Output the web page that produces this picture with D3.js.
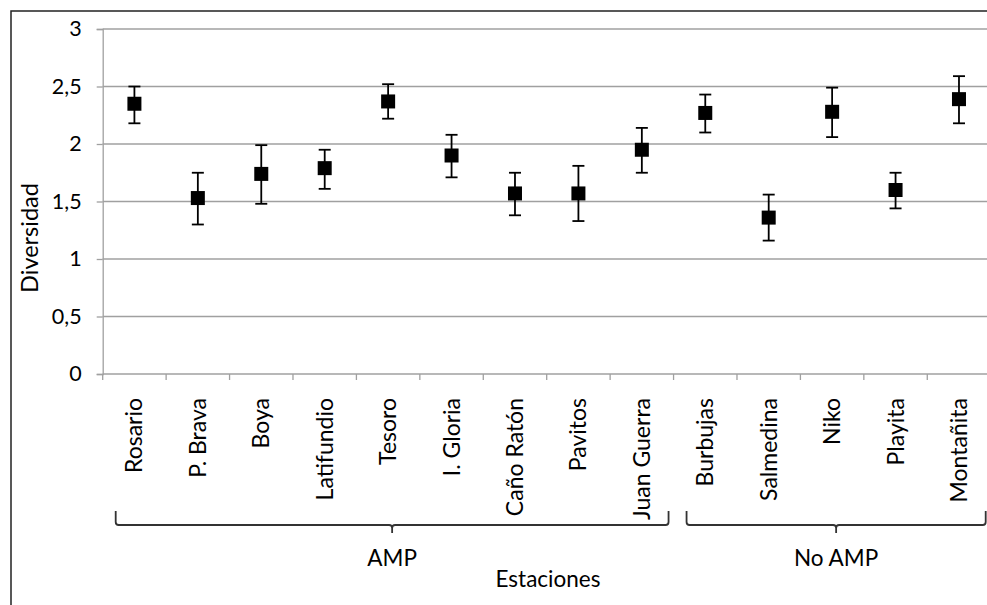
<!DOCTYPE html>
<html>
<head>
<meta charset="utf-8">
<script src="https://cdn.jsdelivr.net/npm/d3@7"></script>
<style>
  body { margin: 0; background: #fff; }
  text { font-family: Lato, "Open Sans", sans-serif; fill: #000; }
</style>
</head>
<body>
<svg id="chart" width="987" height="605"></svg>
<script>
// stations and diversity values
var stations = ["Rosario", "P. Brava", "Boya", "Latifundio", "Tesoro", "I. Gloria",
  "Caño Ratón", "Pavitos", "Juan Guerra", "Burbujas", "Salmedina", "Niko", "Playita", "Montañita"];
var diversity = [2.35, 1.53, 1.74, 1.79, 2.37, 1.90, 1.57, 1.57, 1.95, 2.27, 1.36, 2.28, 1.60, 2.39];
var errTop = [2.50, 1.75, 1.99, 1.95, 2.52, 2.08, 1.75, 1.81, 2.14, 2.43, 1.56, 2.49, 1.75, 2.59];
var errBottom = [2.18, 1.30, 1.48, 1.61, 2.22, 1.71, 1.38, 1.33, 1.75, 2.10, 1.16, 2.06, 1.44, 2.18];
var yTicks = [0, 0.5, 1, 1.5, 2, 2.5, 3];

var groupNames = ["AMP", "No AMP"];
var groupFirst = [0, 9];
var groupLast = [8, 13];

var svg = d3.select("#chart");

// outer chart border (cut off on right and bottom)
svg.append("rect")
  .attr("x", 11).attr("y", 11)
  .attr("width", 1000).attr("height", 700)
  .attr("fill", "none")
  .attr("stroke", "#222")
  .attr("stroke-width", 1.5);

var x = d3.scaleBand().domain(stations).range([102.7, 990.7]);
var y = d3.scaleLinear().domain([0, 3]).range([374, 29]);

// gridlines
svg.append("g")
  .selectAll("line")
  .data(yTicks.filter(function (d) { return d > 0; }))
  .enter()
  .append("line")
  .attr("x1", 102.7).attr("x2", 990.7)
  .attr("y1", function (d) { return y(d); })
  .attr("y2", function (d) { return y(d); })
  .attr("stroke", "#a0a0a0")
  .attr("stroke-width", 1.3);

// y axis
var yAxis = d3.axisLeft(y).tickValues(yTicks).tickSize(6).tickPadding(15)
  .tickFormat(function (d) { return String(d).replace(".", ","); });

var gy = svg.append("g")
  .attr("transform", "translate(102.7,0)")
  .call(yAxis);
gy.select(".domain").attr("stroke", "#a0a0a0").attr("stroke-width", 1.3);
gy.selectAll(".tick line").attr("stroke", "#a0a0a0").attr("stroke-width", 1.3);
gy.selectAll(".tick text")
  .style("font-size", "21.5px")
  .attr("fill", "#000");

// x axis line with ticks at band boundaries
svg.append("line")
  .attr("x1", 102.7).attr("x2", 990.7)
  .attr("y1", y(0)).attr("y2", y(0))
  .attr("stroke", "#a0a0a0").attr("stroke-width", 1.3);

svg.append("g")
  .selectAll("line")
  .data(stations)
  .enter()
  .append("line")
  .attr("x1", function (d) { return x(d); })
  .attr("x2", function (d) { return x(d); })
  .attr("y1", y(0)).attr("y2", y(0) + 6)
  .attr("stroke", "#a0a0a0").attr("stroke-width", 1.3);

// category labels, rotated
svg.append("g")
  .selectAll("text")
  .data(stations)
  .enter()
  .append("text")
  .attr("transform", function (d) {
    return "translate(" + (x(d) + x.bandwidth() / 2 + 8) + ",398) rotate(-90)";
  })
  .attr("text-anchor", "end")
  .style("font-size", "23px")
  .text(function (d) { return d; });

// error bars
var cx = function (d, i) { return x(stations[i]) + x.bandwidth() / 2; };
var bars = svg.append("g");
bars.selectAll("line.v")
  .data(diversity)
  .enter()
  .append("line")
  .attr("class", "v")
  .attr("x1", cx).attr("x2", cx)
  .attr("y1", function (d, i) { return y(errTop[i]); })
  .attr("y2", function (d, i) { return y(errBottom[i]); })
  .attr("stroke", "#000").attr("stroke-width", 1.8);

[errTop, errBottom].forEach(function (arr) {
  bars.append("g")
    .selectAll("line")
    .data(arr)
    .enter()
    .append("line")
    .attr("x1", function (d, i) { return cx(d, i) - 6; })
    .attr("x2", function (d, i) { return cx(d, i) + 6; })
    .attr("y1", function (d) { return y(d); })
    .attr("y2", function (d) { return y(d); })
    .attr("stroke", "#000").attr("stroke-width", 1.8);
});

// markers
svg.append("g")
  .selectAll("rect")
  .data(diversity)
  .enter()
  .append("rect")
  .attr("x", function (d, i) { return cx(d, i) - 7; })
  .attr("y", function (d) { return y(d) - 7; })
  .attr("width", 14).attr("height", 14)
  .attr("fill", "#000");

// group braces
groupNames.forEach(function (name, g) {
  var x0 = x(stations[groupFirst[g]]) + 13;
  var x1 = x(stations[groupLast[g]]) + x.bandwidth() - 5;
  var mid = (x0 + x1) / 2;
  var top = 511, base = 525, r = 3;
  var p = d3.path();
  p.moveTo(x0, top);
  p.lineTo(x0, base - r);
  p.quadraticCurveTo(x0, base, x0 + r, base);
  p.lineTo(mid - r, base);
  p.quadraticCurveTo(mid, base, mid, base + r);
  p.lineTo(mid, base + 8);
  p.moveTo(mid, base + r);
  p.quadraticCurveTo(mid, base, mid + r, base);
  p.lineTo(x1 - r, base);
  p.quadraticCurveTo(x1, base, x1, base - r);
  p.lineTo(x1, top);
  svg.append("path")
    .attr("d", p.toString())
    .attr("fill", "none")
    .attr("stroke", "#333")
    .attr("stroke-width", 1.8);

  svg.append("text")
    .attr("x", mid)
    .attr("y", 566)
    .attr("text-anchor", "middle")
    .style("font-size", "22.5px")
    .text(name);
});

// axis titles
svg.append("text")
  .attr("x", 548)
  .attr("y", 587)
  .attr("text-anchor", "middle")
  .style("font-size", "22.5px")
  .text("Estaciones");

svg.append("text")
  .attr("transform", "translate(38,238) rotate(-90)")
  .attr("text-anchor", "middle")
  .style("font-size", "23.5px")
  .text("Diversidad");
</script>
</body>
</html>
